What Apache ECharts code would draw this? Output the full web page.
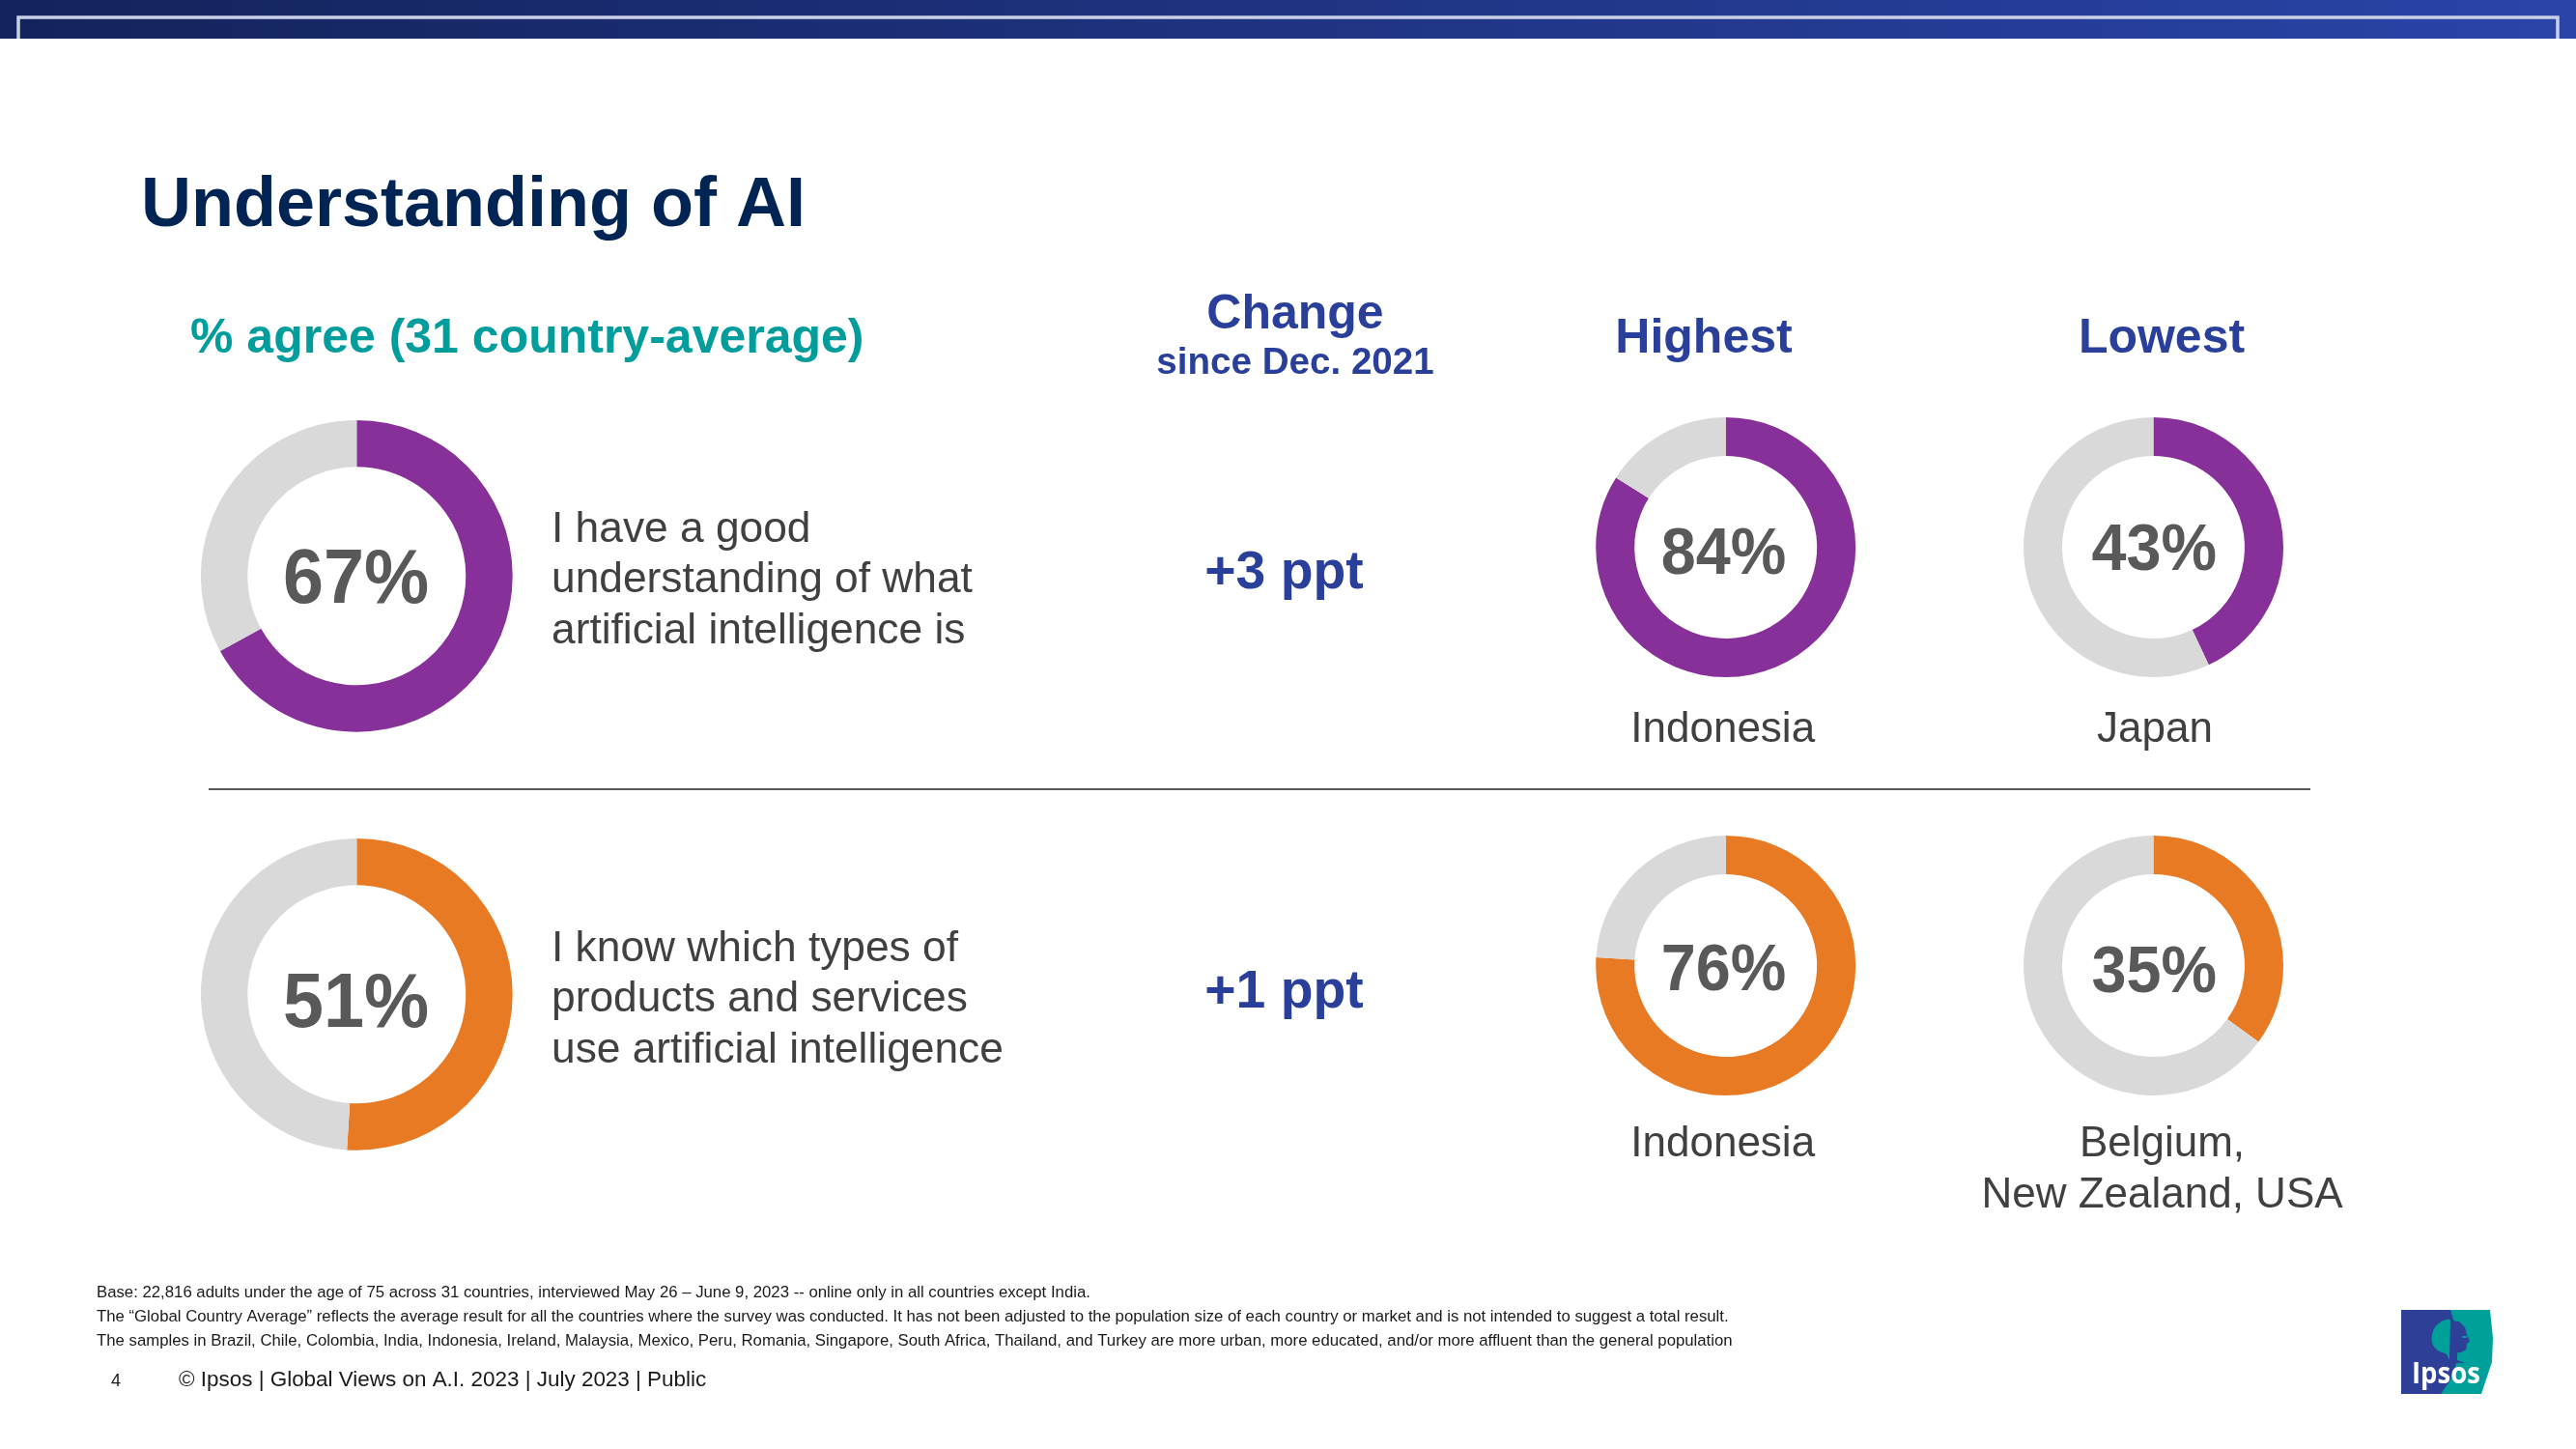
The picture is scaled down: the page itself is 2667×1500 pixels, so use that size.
<!DOCTYPE html>
<html><head><meta charset="utf-8">
<style>html,body{margin:0;padding:0;background:#fff;overflow:hidden}#c{width:2667px;height:1500px}</style>
<script src="https://cdn.jsdelivr.net/npm/echarts@6/dist/echarts.min.js"></script>
</head><body><div id="c"></div>
<script>
const statements = ['I have a good\nunderstanding of what\nartificial intelligence is','I know which types of\nproducts and services\nuse artificial intelligence'];
const averageValues = [67, 51];
const highestValues = [84, 76];
const lowestValues = [43, 35];
const changeLabels = ['+3 ppt', '+1 ppt'];
const highestCountries = ['Indonesia', 'Indonesia'];
const lowestCountries = ['Japan', 'Belgium,\nNew Zealand, USA'];
const rowColors = ['#873099', '#E97A24'];
const restColor = '#D9D9D9';
const footnotes = [
 'Base: 22,816 adults under the age of 75 across 31 countries, interviewed May 26 \u2013 June 9, 2023 -- online only in all countries except India.',
 'The \u201cGlobal Country Average\u201d reflects the average result for all the countries where the survey was conducted. It has not been adjusted to the population size of each country or market and is not intended to suggest a total result.',
 'The samples in Brazil, Chile, Colombia, India, Indonesia, Ireland, Malaysia, Mexico, Peru, Romania, Singapore, South Africa, Thailand, and Turkey are more urban, more educated, and/or more affluent than the general population'
];

const FONT = '"Liberation Sans", Arial, sans-serif';
const chart = echarts.init(document.getElementById('c'), null, {renderer:'canvas', width:2667, height:1500});

function donut(name, value, color, cx, cy, r0, r1) {
  return {type:'pie', name, radius:[r0, r1], center:[cx, cy], startAngle:90, clockwise:true,
    silent:true, label:{show:false}, labelLine:{show:false}, animation:false,
    data:[{value, name:'agree', itemStyle:{color}}, {value:100-value, name:'rest', itemStyle:{color:restColor}}]};
}
function txt(text, x, y, size, color, opts) {
  opts = opts || {};
  return {type:'text', x, y, scaleY:opts.sy||1, silent:true, style:{text, fontFamily:opts.font||FONT, fontSize:size, fontWeight:opts.bold?'bold':'normal',
    fill:color, textAlign:opts.align||'left', textVerticalAlign:'middle', lineHeight:opts.lh||undefined}};
}
const series = [];
const g = [];
const cyAvg = [596.3, 1029.3], cyCmp = [566.5, 999.5];
g.push({type:'rect', shape:{x:0,y:0,width:2667,height:40}, silent:true, style:{fill:new echarts.graphic.LinearGradient(0,0,1,0,[{offset:0,color:'#13235B'},{offset:1,color:'#2A44A8'}])}});
g.push({type:'polyline', shape:{points:[[19,40],[19,18],[2648,18],[2648,40]]}, silent:true, style:{fill:null, stroke:'#C9CFE6', lineWidth:3.5}});
g.push(txt('Understanding of AI', 146, 214, 72, '#002554', {bold:true}));
g.push(txt('% agree (31 country-average)', 197, 351, 50, '#009D9C', {bold:true}));
g.push(txt('Change', 1341, 326, 50, '#2A3F9A', {bold:true, align:'center'}));
g.push(txt('since Dec. 2021', 1341, 376, 38.6, '#2A3F9A', {bold:true, align:'center'}));
g.push(txt('Highest', 1764, 351, 50, '#2A3F9A', {bold:true, align:'center'}));
g.push(txt('Lowest', 2238, 351, 50, '#2A3F9A', {bold:true, align:'center'}));
g.push({type:'line', shape:{x1:216,y1:817,x2:2392,y2:817}, silent:true, style:{stroke:'#595959', lineWidth:2}});

const PCT = '#595959';
[0,1].forEach(i=>{
  const c = rowColors[i];
  series.push(donut('avg'+i, averageValues[i], c, 369.3, cyAvg[i], 113, 161.4));
  series.push(donut('high'+i, highestValues[i], c, 1786.7, cyCmp[i], 94.5, 134.5));
  series.push(donut('low'+i, lowestValues[i], c, 2229.5, cyCmp[i], 94.5, 134.5));
  g.push(txt(averageValues[i]+'%', 368.5, [602,1041.5][i], 75.5, PCT, {bold:true, align:'center', sy:1.05}));
  g.push(txt(highestValues[i]+'%', 1784.6, [575.7,1006.7][i], 64.7, PCT, {bold:true, align:'center', sy:1.05}));
  g.push(txt(lowestValues[i]+'%', 2230.3, [571.7,1008.4][i], 64.7, PCT, {bold:true, align:'center', sy:1.05}));
  g.push(txt(statements[i], 571, [601,1035][i], 44.3, '#404040', {lh:52.5}));
  g.push(txt(changeLabels[i], 1329.5, [594,1028][i], 55.3, '#2A3F9A', {bold:true, align:'center'}));
  g.push(txt(highestCountries[i], 1783.7, [756,1185][i], 44, '#404040', {align:'center'}));
  const two = lowestCountries[i].indexOf('\n')>=0;
  g.push(txt(lowestCountries[i], two?2238.5:2231, [756,1211.5][i], 44, '#404040', {align:'center', lh:53.3}));
});
[1338,1363,1388].forEach((y,i)=>g.push(txt(footnotes[i], 100, y, 16.75, '#1a1a1a')));
g.push(txt('4', 115, 1430, 18, '#1a1a1a'));
g.push(txt('\u00a9 Ipsos | Global Views on A.I. 2023 | July 2023 | Public', 185, 1429, 22.45, '#1a1a1a'));
// logo
g.push({type:'polygon', silent:true, shape:{points:[[2486,1356],[2578,1356],[2581,1385],[2580,1410],[2569,1443],[2486,1443]]}, style:{fill:'#00A09A'}});
g.push({type:'polygon', silent:true, shape:{points:[[2486,1356],[2537,1356],[2543,1375],[2545,1395],[2543,1412],[2536,1430],[2527,1443],[2486,1443]]}, style:{fill:'#2E3F98'}});
g.push({type:'polygon', silent:true, shape:{smooth:0.35, points:[[2537,1367],[2526,1369],[2519,1378],[2518,1390],[2524,1398],[2533,1402],[2536,1409]]}, style:{fill:'#00A09A'}});
g.push({type:'polygon', silent:true, shape:{points:[[2537,1367],[2546,1368],[2552,1374],[2554,1382],[2557,1388],[2554,1391],[2553,1397],[2548,1400],[2543,1400],[2544,1408],[2552,1411],[2537,1411],[2532,1411],[2536,1406]]}, style:{fill:'#2E3F98'}});
g.push({type:'rect', silent:true, shape:{x:2549,y:1383,width:5,height:2}, style:{fill:'#00A09A'}});
g.push(txt('Ipsos', 2497, 1424, 27.5, '#ffffff', {font:'"Open Sans", sans-serif', bold:true, sy:1.08}));

chart.setOption({animation:false, backgroundColor:'#ffffff', series, graphic:{elements:g}});
</script></body></html>
